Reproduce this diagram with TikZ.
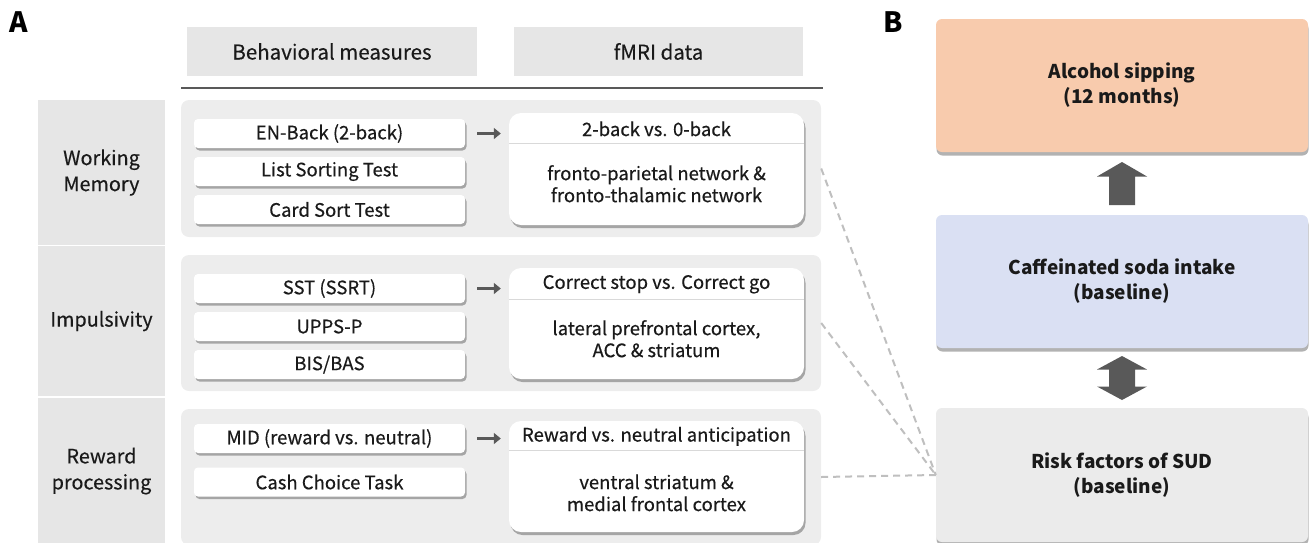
\documentclass[tikz,border=0pt]{standalone}
\usepackage{fontspec}
\setmainfont{Noto Sans CJK KR}
\newfontfamily\medfam[FakeBold=0.4]{Noto Sans CJK KR}
\usepackage{tikz}
\usetikzlibrary{calc,shadows,arrows.meta,positioning}

\definecolor{hdrgray}{HTML}{E6E6E6}
\definecolor{catgray}{HTML}{E6E6E6}
\definecolor{panelgray}{HTML}{EDEDED}
\definecolor{riskgray}{HTML}{EBEBEB}
\definecolor{peach}{HTML}{F8CBAD}
\definecolor{paleblue}{HTML}{DAE0F3}
\definecolor{arrowgray}{HTML}{595959}
\definecolor{dashgray}{HTML}{BFBFBF}
\definecolor{txtgray}{HTML}{1A1A1A}

\newcommand{\regfont}{\medfam\fontsize{18.5}{22}\selectfont}
\newcommand{\catfont}{\medfam\fontsize{19.8}{26}\selectfont}
\newcommand{\hdrfont}{\medfam\fontsize{20.5}{24}\selectfont}
\newcommand{\boxfont}{\fontsize{19}{25}\selectfont\bfseries}

\tikzset{
  hdrbox/.style={fill=hdrgray, minimum width=290, minimum height=49, inner sep=0, font=\hdrfont},
  catbox/.style={fill=catgray, draw=white, line width=1.5, minimum width=129, inner sep=0, align=center, font=\catfont},
  panel/.style={fill=panelgray, rounded corners=8, minimum width=640, minimum height=136, inner sep=0},
  behbox/.style={fill=white, rounded corners=4, minimum width=271, minimum height=29, inner sep=0,
    drop shadow={shadow xshift=1.5, shadow yshift=2.5, fill=black, opacity=0.3}},
  fmribox/.style={fill=white, rounded corners=12, minimum width=295, minimum height=111, inner sep=0,
    drop shadow={shadow xshift=1.5, shadow yshift=3, fill=black, opacity=0.3}},
  bigbox/.style={rounded corners=6, minimum width=372, minimum height=133, inner sep=0, align=center, font=\boxfont,
    drop shadow={shadow xshift=0.5, shadow yshift=3.5, fill=black, opacity=0.3}},
  smallarrow/.style={draw=arrowgray, line width=2.5, -{Triangle[length=7,width=11]}},
  dashline/.style={draw=dashgray, line width=2, dash pattern=on 7 off 5},
}

\begin{document}
\begin{tikzpicture}[x=1pt,y=-1pt, every node/.style={text=txtgray, font=\regfont}]
\useasboundingbox (0,0) rectangle (1309,542);

% panel labels
\node[font=\fontsize{28}{30}\selectfont\bfseries, text=black] (labA) at (19,22) {A};
\node[font=\fontsize{28}{30}\selectfont\bfseries, text=black] (labB) at (893,22) {B};

% column headers
\node[hdrbox] (bhdr) at (332,51.5) {Behavioral measures};
\node[hdrbox, minimum width=289] (fhdr) at (658.5,51.5) {fMRI data};
\draw[arrowgray, line width=2] (181,88) -- (823,88);

% categories
\node[catbox, minimum height=146] (wmcat) at (101.5,172.5) {Working\\Memory};
\node[catbox, minimum height=151] (impcat) at (101.5,321) {Impulsivity};
\node[catbox, minimum height=147] (rewcat) at (101.5,471) {Reward\\processing};

% group panels
\node[panel, minimum height=137] (wmp) at (501,168.5) {};
\node[panel] (impp) at (501,323) {};
\node[panel] (rewp) at (501,477) {};

% behavioral measures
\foreach \nm/\y/\txt in {enb/133.5/EN-Back (2-back), lst/171.5/List Sorting Test, cst/209.5/Card Sort Test,
  sst/288.5/SST (SSRT), upp/326.5/UPPS-P, bis/364.5/{BIS/BAS},
  mid/438.5/MID (reward vs. neutral), ccs/482/Cash Choice Task}
  \node[behbox] (\nm) at (329.5,\y) {\txt};

% fMRI contrasts
\node[fmribox, minimum height=112] (wmf) at (656.5,169) {};
\node[fmribox] (impf) at (656.5,323.5) {};
\node[fmribox] (rewf) at (656.5,476.5) {};

\draw[black!15, line width=1] ($(wmf.north west)+(0,31)$) coordinate (wms) -- (wms -| wmf.east);
\draw[black!15, line width=1] ($(impf.north west)+(0,32)$) coordinate (imps) -- (imps -| impf.east);
\draw[black!15, line width=1] ($(rewf.north west)+(0,30)$) coordinate (rews) -- (rews -| rewf.east);

\node (wmft) at ($(wmf.north)+(0,16)$) {2-back vs. 0-back};
\node[align=center] (wmfb) at ($(wmf.north)+(0,71)$) {fronto-parietal network \&\\fronto-thalamic network};
\node (impft) at ($(impf.north)+(0,16.5)$) {Correct stop vs. Correct go};
\node[align=center] (impfb) at ($(impf.north)+(0,71)$) {lateral prefrontal cortex,\\ACC \& striatum};
\node (rewft) at ($(rewf.north)+(0,15.5)$) {Reward vs. neutral anticipation};
\node[align=center] (rewfb) at ($(rewf.north)+(0,72)$) {ventral striatum \&\\medial frontal cortex};

% behavioral -> fMRI
\draw[smallarrow, shorten <=12, shorten >=8] (enb.east) -- (enb.east -| wmf.west);
\draw[smallarrow, shorten <=12, shorten >=8] (sst.east) -- (sst.east -| impf.west);
\draw[smallarrow, shorten <=12, shorten >=8] (mid.east) -- (mid.east -| rewf.west);

% panel B
\node[bigbox, fill=peach] (alc) at (1122,85.5) {Alcohol sipping\\(12 months)};
\node[bigbox, fill=paleblue] (soda) at (1122,281.5) {Caffeinated soda intake\\(baseline)};
\node[bigbox, fill=riskgray, minimum height=134] (risk) at (1122,475) {Risk factors of SUD\\(baseline)};

\coordinate (riskin) at (risk.west);
\draw[dashline] (wmp.east) -- (riskin);
\draw[dashline] (impp.east) -- (riskin);
\draw[dashline] (rewp.east) -- (riskin);

% big arrows
\coordinate (upc) at ($(alc.south)!0.5!(soda.north)$);
\coordinate (dblc) at ($(soda.south)!0.5!(risk.north)$);
\fill[arrowgray, shift={(upc)}] (-13,21.5) -- (-13,-7) -- (-25,-7) -- (0,-21.5) -- (25,-7) -- (13,-7) -- (13,21.5) -- cycle;
\fill[arrowgray, shift={(dblc)}] (-13,8.5) -- (-25,8.5) -- (0,22) -- (25,8.5) -- (13,8.5) -- (13,-8.5) -- (25,-8.5) -- (0,-22) -- (-25,-8.5) -- (-13,-8.5) -- cycle;
\end{tikzpicture}
\end{document}
